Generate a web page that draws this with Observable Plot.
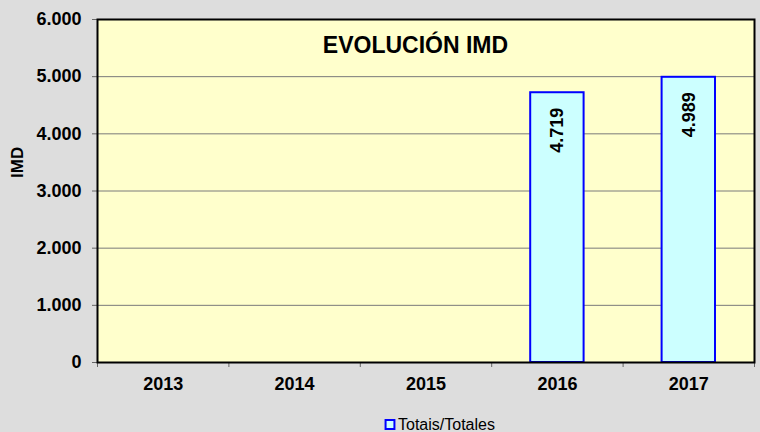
<!DOCTYPE html>
<html>
<head>
<meta charset="utf-8">
<script src="https://cdn.jsdelivr.net/npm/d3@7"></script>
<script src="https://cdn.jsdelivr.net/npm/@observablehq/plot@0.6"></script>
<style>
  html, body { margin: 0; padding: 0; background: #DDDDDD; }
  #chart svg { display: block; }
</style>
</head>
<body>
<div id="chart"></div>
<script>
// Yearly IMD totals
const years = [2013, 2014, 2015, 2016, 2017];
const imd = [null, null, null, 4719, 4989];
const yTicks = [0, 1000, 2000, 3000, 4000, 5000, 6000];
const gridValues = [1000, 2000, 3000, 4000, 5000];
const chartTitle = "EVOLUCIÓN IMD";
const yLabel = "IMD";
const seriesName = "Totais/Totales";

const rows = years.map((year, i) => ({year, value: imd[i]}));
const bars = rows.filter(d => d.value != null);
// band edges around each year, used for the category tick marks
const edges = years.map(y => y - 0.5).concat(years[years.length - 1] + 0.5);

// Spanish-style thousands separator: 4.719
const fmt = d => d3.format(",")(d).replace(/,/g, ".");

const plot = Plot.plot({
  width: 760,
  height: 432,
  marginLeft: 97,
  marginRight: 6,
  marginTop: 19,
  marginBottom: 70,
  style: {
    background: "#DDDDDD",
    fontFamily: "'Liberation Sans', Arial, sans-serif",
    fontSize: "18px",
    fontWeight: "bold",
    color: "black"
  },
  x: {domain: [edges[0], edges[edges.length - 1]], axis: null},
  y: {domain: [0, 6000], axis: null},
  marks: [
    Plot.frame({fill: "#FFFFCC", stroke: null}),
    Plot.ruleY(gridValues, {stroke: "#7a7a7a", strokeWidth: 1}),
    Plot.rectY(bars, {
      x1: d => d.year - 0.5,
      x2: d => d.year + 0.5,
      y: "value",
      insetLeft: 39,
      insetRight: 39,
      fill: "#CCFFFF",
      stroke: "#0000FF",
      strokeWidth: 2
    }),
    Plot.text(bars, {
      x: "year",
      y: "value",
      text: d => fmt(d.value),
      rotate: -90,
      textAnchor: "end",
      lineAnchor: "middle",
      dy: 15,
      fontSize: 18,
      fontWeight: "bold",
      fill: "black"
    }),
    Plot.axisY({
      ticks: yTicks,
      tickFormat: fmt,
      tickSize: 5,
      tickPadding: 11,
      label: null,
      stroke: "#666666",
      fill: "black"
    }),
    Plot.axisX({
      ticks: edges,
      tickFormat: () => "",
      tickSize: 5,
      label: null,
      stroke: "#666666"
    }),
    Plot.text(years, {
      x: d => d,
      frameAnchor: "bottom",
      dy: 22,
      lineAnchor: "middle",
      text: d => String(d),
      fontSize: 18,
      fontWeight: "bold",
      fill: "black"
    }),
    Plot.text([chartTitle], {
      frameAnchor: "top",
      dx: -10.5,
      dy: 26,
      lineAnchor: "middle",
      fontSize: 23,
      fontWeight: "bold",
      fill: "black"
    }),
    Plot.text([yLabel], {
      frameAnchor: "left",
      rotate: -90,
      dx: -80,
      dy: -13,
      lineAnchor: "middle",
      fontSize: 17,
      fontWeight: "bold",
      fill: "black"
    }),
    // legend swatch and label
    Plot.dot([seriesName], {
      frameAnchor: "bottom",
      symbol: "square",
      r: 5,
      dx: -36,
      dy: 62,
      fill: "#CCFFFF",
      stroke: "#0000FF",
      strokeWidth: 2
    }),
    Plot.text([seriesName], {
      frameAnchor: "bottom",
      textAnchor: "start",
      lineAnchor: "middle",
      dx: -28,
      dy: 62,
      fontSize: 16,
      fontWeight: "normal",
      fill: "black"
    }),
    Plot.frame({stroke: "black", strokeWidth: 2})
  ]
});

document.getElementById("chart").append(plot);
</script>
</body>
</html>
